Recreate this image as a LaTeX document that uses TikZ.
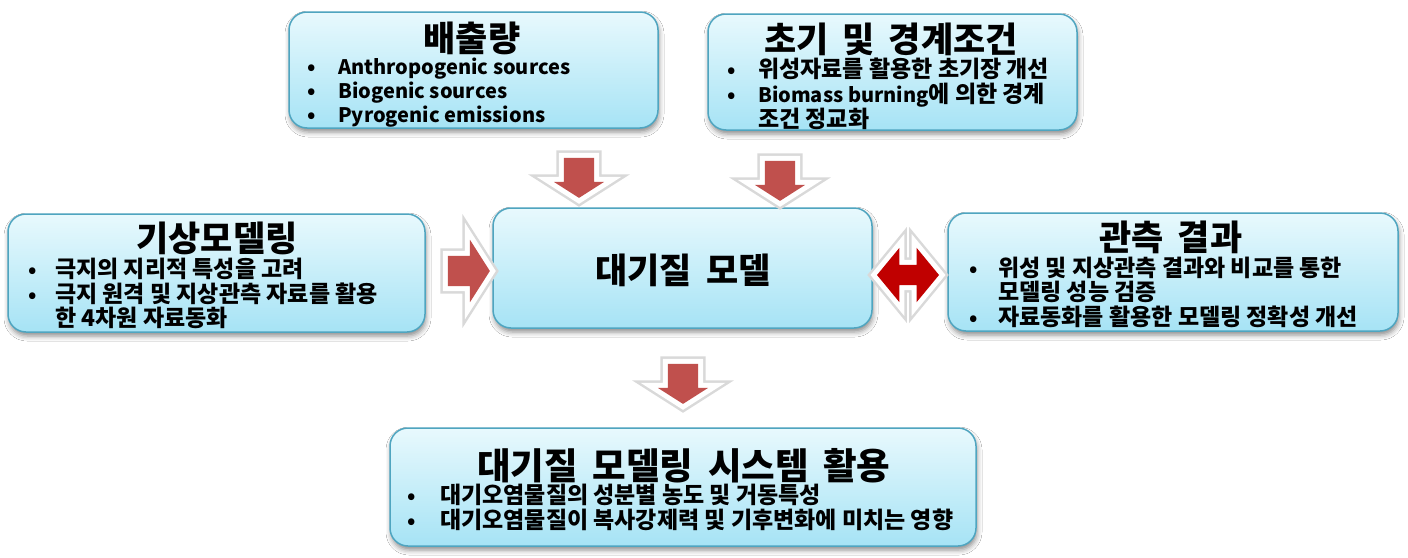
\documentclass[tikz,border=0pt]{standalone}
\usepackage{fontspec}
\setmainfont{Noto Sans CJK KR}
\usetikzlibrary{shapes.arrows,shadows.blur}
\definecolor{boxtop}{HTML}{E8F9FD}
\definecolor{boxbot}{HTML}{A6E3F5}
\definecolor{boxline}{HTML}{4FA5C0}
\definecolor{arrred}{HTML}{C0504D}
\definecolor{arrdark}{HTML}{C00000}
\newcommand{\latn}[1]{{\fontsize{20}{25}\selectfont #1}}
\newcommand{\tgap}{\hspace{0.4em}}
\begin{document}
\begin{tikzpicture}[x=1pt,y=-1pt,
 box/.style={rectangle, rounded corners=18pt, draw=boxline, line width=1.5pt,
   top color=boxtop, bottom color=boxbot,
   blur shadow={shadow xshift=1pt, shadow yshift=-4pt, shadow blur radius=5pt, shadow opacity=45},
   inner sep=0pt},
 ttl/.style={font=\fontsize{35}{40}\selectfont\bfseries, anchor=base, inner sep=0pt},
 bodytxt/.style={font=\fontsize{23}{25}\selectfont\bfseries, anchor=base west, inner sep=0pt},
 bul/.style={font=\fontsize{21}{25}\selectfont\bfseries, anchor=base, inner sep=0pt},
 blockarrow/.style={preaction={draw=black!15, line width=15pt, line join=miter},
   preaction={draw=white, line width=10pt, line join=miter}},
 downarrow/.style={blockarrow, fill=arrred, single arrow, shape border rotate=270,
   minimum height=40pt, single arrow head extend=10pt, single arrow tip angle=115, inner sep=15pt},
 rightarrow/.style={blockarrow, fill=arrred, single arrow,
   minimum height=42pt, single arrow head extend=16pt, single arrow tip angle=115, inner sep=15pt},
 dblarrow/.style={blockarrow, fill=arrdark, double arrow,
   minimum height=62pt, double arrow head extend=17pt, double arrow tip angle=101, inner sep=10pt}
]
\useasboundingbox (0,0) rectangle (1408,557);
\fill[white] (0,0) rectangle (1408,557);

% boxes
\node[box, minimum width=369pt, minimum height=116pt] (emis) at (473.5,70) {};
\node[box, minimum width=369pt, minimum height=116pt] (init) at (892.5,72) {};
\node[box, minimum width=417pt, minimum height=118pt] (met) at (216.5,273) {};
\node[box, minimum width=379pt, minimum height=120pt] (aq) at (682.5,268) {};
\node[box, minimum width=450pt, minimum height=118pt] (obs) at (1173,272) {};
\node[box, minimum width=586pt, minimum height=118pt] (use) at (683,487) {};

% emissions
\node[ttl] (emisT) at (472,51) {배출량};
\node[bul] (emisB1) at (312,74) {•};
\node[bodytxt] (emisL1) at (338,74) {\latn{Anthropogenic sources}};
\node[bul] (emisB2) at (312,98) {•};
\node[bodytxt] (emisL2) at (338,98) {\latn{Biogenic sources}};
\node[bul] (emisB3) at (312,122) {•};
\node[bodytxt] (emisL3) at (338,122) {\latn{Pyrogenic emissions}};

% initial / boundary
\node[ttl] (initT) at (891,52) {초기\tgap 및\tgap 경계조건};
\node[bul] (initB1) at (732,77) {•};
\node[bodytxt] (initL1) at (758,77) {위성자료를 활용한 초기장 개선};
\node[bul] (initB2) at (732,102) {•};
\node[bodytxt] (initL2) at (758,102) {\latn{Biomass burning}에 의한 경계};
\node[bodytxt] (initL3) at (758,127) {조건 정교화};

% meteorology
\node[ttl] (metT) at (217,251) {기상모델링};
\node[bul] (metB1) at (33,277) {•};
\node[bodytxt] (metL1) at (55,277) {극지의 지리적 특성을 고려};
\node[bul] (metB2) at (33,302) {•};
\node[bodytxt] (metL2) at (55,302) {극지 원격 및 지상관측 자료를 활용};
\node[bodytxt] (metL3) at (55,326) {한 4차원 자료동화};

% air quality model
\node[ttl] (aqT) at (683,283) {대기질\tgap 모델};

% observations
\node[ttl] (obsT) at (1171,250) {관측\tgap 결과};
\node[bul] (obsB1) at (974,276) {•};
\node[bodytxt] (obsL1) at (998,276) {위성 및 지상관측 결과와 비교를 통한};
\node[bodytxt] (obsL2) at (998,300) {모델링 성능 검증};
\node[bul] (obsB2) at (974,325) {•};
\node[bodytxt] (obsL3) at (998,325) {자료동화를 활용한 모델링 정확성 개선};

% application
\node[ttl, font=\fontsize{36.5}{40}\selectfont\bfseries] (useT) at (684,479) {대기질\tgap 모델링\tgap 시스템\tgap 활용};
\node[bul] (useB1) at (412,503) {•};
\node[bodytxt] (useL1) at (440,503) {대기오염물질의 성분별 농도 및 거동특성};
\node[bul] (useB2) at (412,528) {•};
\node[bodytxt] (useL2) at (440,528) {대기오염물질이 복사강제력 및 기후변화에 미치는 영향};

% block arrows
\node[downarrow] (a1) at (579,173) {};
\node[downarrow] (a2) at (780,176) {};
\node[downarrow] (a3) at (683,379) {};
\node[rightarrow] (a4) at (464,271) {};
\node[dblarrow] (a5) at (908,275) {};
\end{tikzpicture}
\end{document}
